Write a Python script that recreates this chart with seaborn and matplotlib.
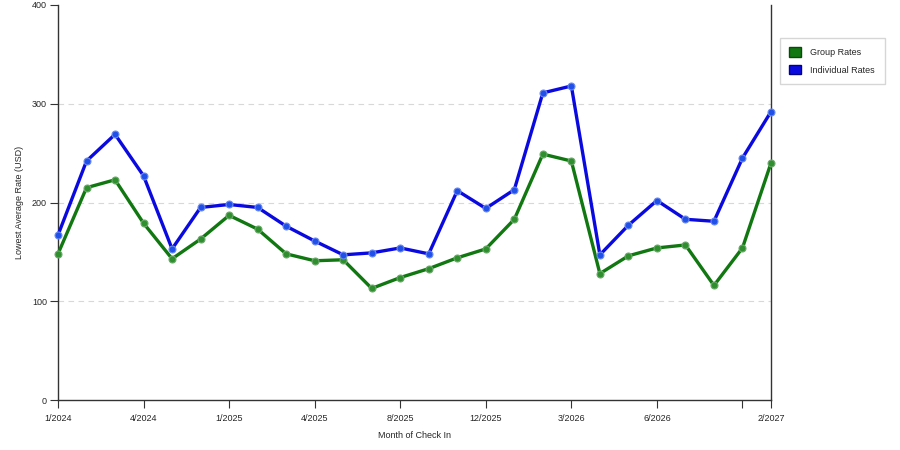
import pandas as pd
import matplotlib
matplotlib.use("Agg")
import matplotlib.pyplot as plt
import seaborn as sns
from matplotlib.patches import Patch

# Data
month_idx = list(range(26))
tick_pos = [0, 3, 6, 9, 12, 15, 18, 21, 24, 25]
tick_labels = ["1/2024", "4/2024", "1/2025", "4/2025", "8/2025", "12/2025",
               "3/2026", "6/2026", "", "2/2027"]
group_rates = [148, 215, 223, 179, 143, 163, 187, 173, 148, 141, 142, 113, 124,
               133, 144, 153, 183, 249, 242, 128, 146, 154, 157, 116, 154, 240]
individual_rates = [167, 242, 269, 227, 153, 195, 198, 195, 176, 161, 147, 149, 154,
                    148, 212, 194, 213, 311, 318, 147, 177, 202, 183, 181, 245, 292]

green = "#117711"
blue = "#0a0ae0"

sns.set_style("white")
plt.rcParams['font.family'] = ['Liberation Sans', 'DejaVu Sans']

df = pd.DataFrame({"idx": month_idx, "group": group_rates, "indiv": individual_rates})

fig = plt.figure(figsize=(9, 4.5), dpi=100)
ax = fig.add_axes([58 / 900, 50 / 450, 713 / 900, 395 / 450])

sns.lineplot(data=df, x="idx", y="group", color=green, lw=2.4, marker="o", ms=5,
             mfc="#2f8f2f", mec="#6aa86a", mew=0.8, ax=ax, zorder=3, clip_on=False)
sns.lineplot(data=df, x="idx", y="indiv", color=blue, lw=2.4, marker="o", ms=5,
             mfc="#2050e8", mec="#6a8af0", mew=0.8, ax=ax, zorder=4, clip_on=False)

ax.set_xlim(0, 25)
ax.set_ylim(0, 400)
ax.set_yticks([0, 100, 200, 300, 400])
ax.set_xticks(tick_pos)
ax.set_xticklabels(tick_labels)
ax.tick_params(axis="both", labelsize=6.5, length=6, width=0.8, color="#333333",
               direction="out", pad=2, bottom=True, left=True)
ax.tick_params(axis="x", pad=4)
ax.yaxis.grid(False)
ax.xaxis.grid(False)
for yv in [100, 200, 300]:
    ax.axhline(yv, linestyle=(0, (5, 4)), color="#d8d8d8", lw=0.8, zorder=1)

for side in ["left", "bottom", "right"]:
    ax.spines[side].set_color("#333333")
    ax.spines[side].set_linewidth(1.0)
ax.spines["top"].set_visible(False)

ax.set_xlabel("Month of Check In", fontsize=6.5, labelpad=6)
ax.set_ylabel("Lowest Average Rate (USD)", fontsize=6.5, labelpad=6)

handles = [Patch(facecolor=green, edgecolor="#0a4a0a", label="Group Rates"),
           Patch(facecolor=blue, edgecolor="#00008a", label="Individual Rates")]
fig.legend(handles=handles, loc="upper left", bbox_to_anchor=(775 / 900, 1 - 33 / 450),
           fontsize=6.5, frameon=True, fancybox=False, edgecolor="#cccccc",
           handlelength=1.3, handleheight=1.3, borderpad=1.1, labelspacing=0.8,
           handletextpad=1.0)

fig.savefig("out.png", dpi=100)
